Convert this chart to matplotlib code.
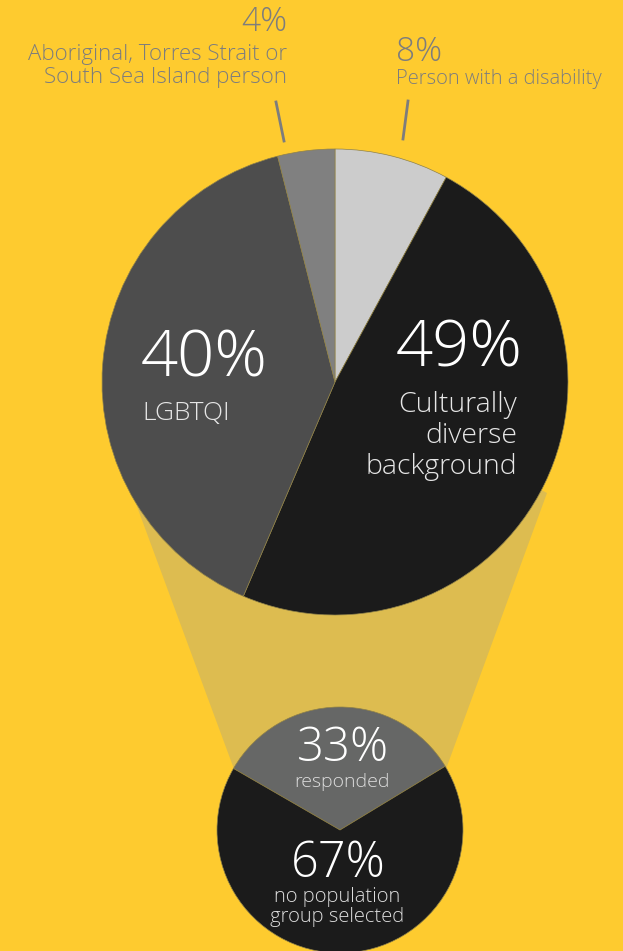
import matplotlib.pyplot as plt
from matplotlib.patches import Polygon

# population groups among people who responded
groups = ['Person with a disability', 'Culturally diverse background',
          'LGBTQI', 'Aboriginal, Torres Strait or South Sea Island person']
shares = [8, 49, 40, 4]
group_colors = ['#cccccc', '#1b1b1b', '#4d4d4d', '#808080']

# response split
resp_labels = ['responded', 'no population group selected']
resp_shares = [33, 67]
resp_colors = ['#666766', '#1b1b1b']

BG = '#fecb2f'
FONT = 'Open Sans'
W = 'light'

fig = plt.figure(figsize=(6.23, 9.51), dpi=100, facecolor=BG)
ax = fig.add_axes([0, 0, 1, 1])
ax.set_facecolor(BG)

edge = dict(edgecolor='#8f8148', linewidth=0.5)

# big pie, clockwise from 12 o'clock (y axis is flipped below)
ax.pie(shares, colors=group_colors, startangle=-90, counterclock=True,
       center=(335, 382), radius=233, wedgeprops=edge, frame=True)

# small pie, "responded" slice centred on top
ax.pie(resp_shares, colors=resp_colors, startangle=-150, counterclock=True,
       center=(340, 830), radius=123, wedgeprops=edge, frame=True)

# funnel joining the two pies
funnel = Polygon([(335, 382), (132, 493), (234, 769), (340, 830),
                  (446, 769), (547, 493)], closed=True,
                 facecolor='#ddbc50', edgecolor='none', zorder=0)
ax.add_patch(funnel)

ax.set_xlim(0, 623)
ax.set_ylim(951, 0)
ax.set_aspect('equal')
ax.axis('off')

grey = '#7d7d7d'
# labels for the two small slices
ax.text(287, 22, f'{shares[3]}%', ha='right', va='center', fontsize=24,
        color=grey, family=FONT, weight=W)
ax.text(287, 66, 'Aboriginal, Torres Strait or\nSouth Sea Island person',
        ha='right', va='center', fontsize=16, color=grey, family=FONT,
        weight=W, linespacing=1.1)
ax.plot([276, 284], [102, 141], color=grey, lw=2)

ax.text(396, 52, f'{shares[0]}%', ha='left', va='center', fontsize=24,
        color=grey, family=FONT, weight=W)
ax.text(396, 79, groups[0], ha='left', va='center',
        fontsize=14.5, color=grey, family=FONT, weight=W)
ax.plot([408, 403], [101, 139], color=grey, lw=2)

# labels inside the big pie
ax.text(141, 360, f'{shares[2]}%', ha='left', va='center', fontsize=47,
        color='white', family=FONT, weight=W)
ax.text(142, 413, groups[2], ha='left', va='center', fontsize=19,
        color='#e6e6e6', family=FONT, weight=W)
ax.text(523, 350, f'{shares[1]}%', ha='right', va='center', fontsize=47,
        color='white', family=FONT, weight=W)
ax.text(517, 436, 'Culturally\ndiverse\nbackground', ha='right', va='center',
        fontsize=20.5, color='#e6e6e6', family=FONT, weight=W,
        linespacing=1.12)

# labels inside the small pie
ax.text(343, 749, f'{resp_shares[0]}%', ha='center', va='center', fontsize=34,
        color='white', family=FONT, weight=W)
ax.text(342, 782, resp_labels[0], ha='center', va='center', fontsize=14,
        color='#dddddd', family=FONT, weight=W)
ax.text(338, 864, f'{resp_shares[1]}%', ha='center', va='center', fontsize=35,
        color='white', family=FONT, weight=W)
ax.text(337, 907, 'no population\ngroup selected', ha='center', va='center',
        fontsize=14.5, color='#dddddd', family=FONT, weight=W,
        linespacing=1.0)

fig.savefig('out.png', dpi=100, facecolor=BG)
